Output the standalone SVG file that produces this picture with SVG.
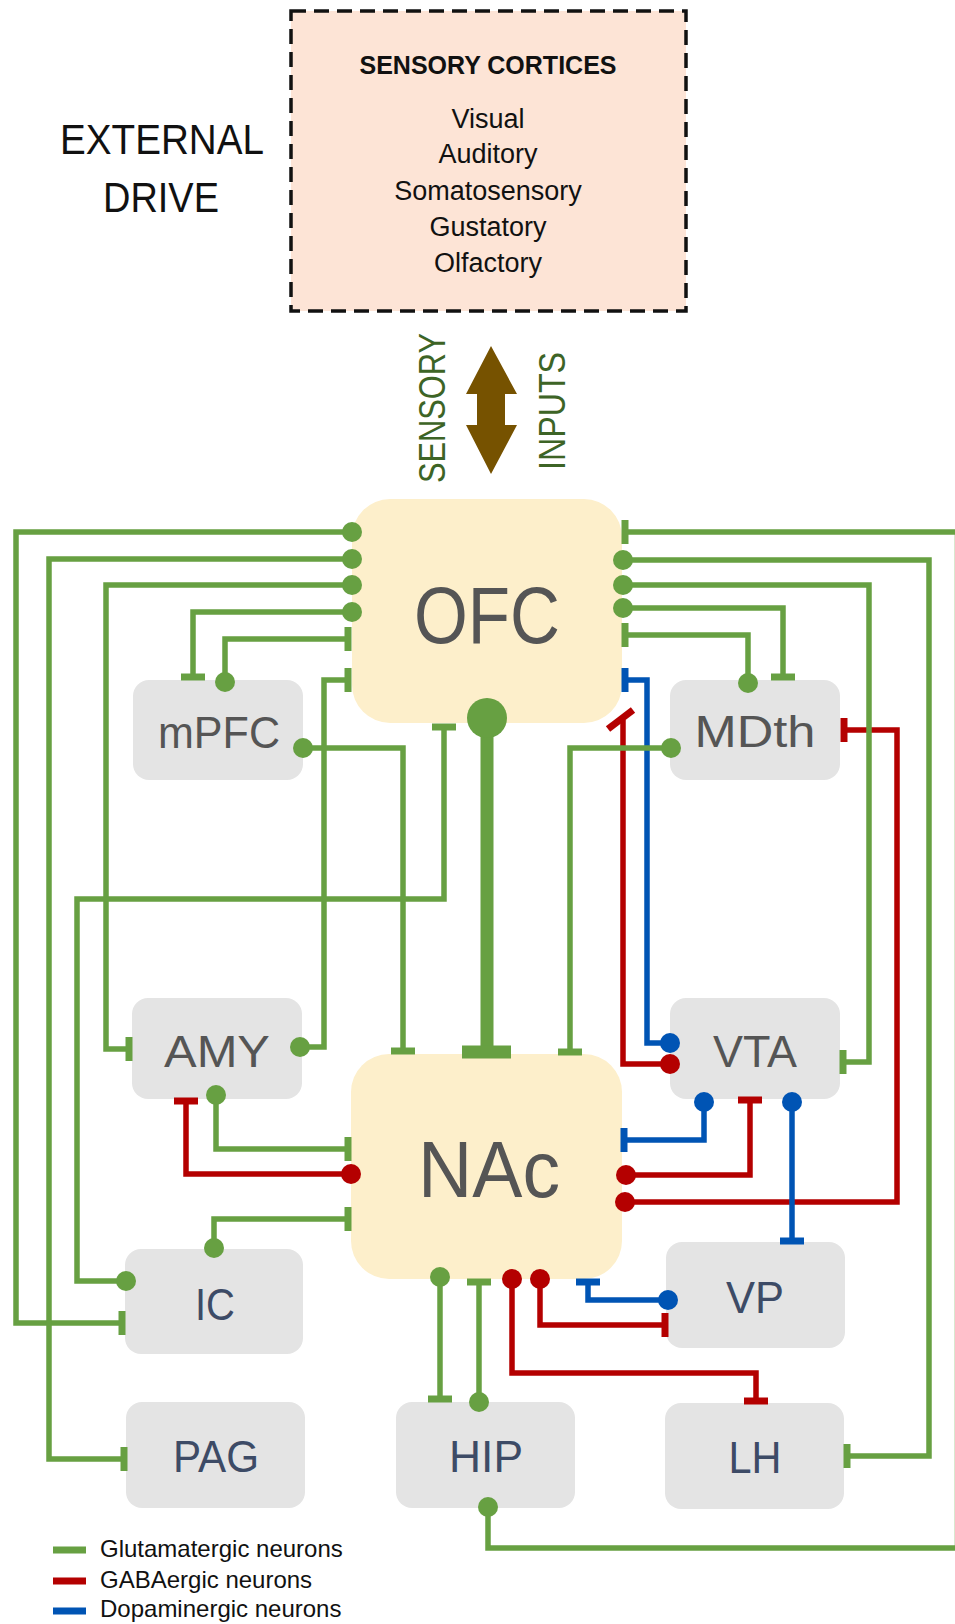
<svg xmlns="http://www.w3.org/2000/svg" width="955" height="1624" viewBox="0 0 955 1624">
<style>
  text { font-family: "Liberation Sans", Arial, sans-serif; }
  .hub { fill: #fdefcb; }
  .box { fill: #e4e4e4; }
  .lblA { font-size: 45px; fill: #555555; text-anchor: middle; }
  .lblB { font-size: 45px; fill: #3d4b66; text-anchor: middle; }
  .hubl { font-size: 80px; fill: #555555; text-anchor: middle; }
  .g { fill: none; stroke: #67a042; stroke-width: 5.5; }
  .r { fill: none; stroke: #b40000; stroke-width: 5.5; }
  .b { fill: none; stroke: #0054b4; stroke-width: 5.5; }
  .g { marker-start: url(#dotG); marker-end: url(#barG); }
  .r { marker-start: url(#dotR); marker-end: url(#barR); }
  .b { marker-start: url(#dotB); marker-end: url(#barB); }
  .list { font-size: 27px; fill: #111; text-anchor: middle; }
  .side { font-size: 36px; fill: #3d6426; text-anchor: middle; }
  .leg { font-size: 24px; fill: #111; }
</style>
<defs>
  <marker id="dotG" markerUnits="userSpaceOnUse" viewBox="-15 -15 30 30" markerWidth="30" markerHeight="30" refX="0" refY="0" orient="auto" overflow="visible"><circle r="10" fill="#67a042"/></marker>
  <marker id="dotR" markerUnits="userSpaceOnUse" viewBox="-15 -15 30 30" markerWidth="30" markerHeight="30" refX="0" refY="0" orient="auto" overflow="visible"><circle r="10" fill="#b40000"/></marker>
  <marker id="dotB" markerUnits="userSpaceOnUse" viewBox="-15 -15 30 30" markerWidth="30" markerHeight="30" refX="0" refY="0" orient="auto" overflow="visible"><circle r="10" fill="#0054b4"/></marker>
  <marker id="barG" markerUnits="userSpaceOnUse" viewBox="-15 -15 30 30" markerWidth="30" markerHeight="30" refX="0" refY="0" orient="auto" overflow="visible"><line x1="0" y1="-12" x2="0" y2="12" stroke="#67a042" stroke-width="7"/></marker>
  <marker id="barR" markerUnits="userSpaceOnUse" viewBox="-15 -15 30 30" markerWidth="30" markerHeight="30" refX="0" refY="0" orient="auto" overflow="visible"><line x1="0" y1="-12" x2="0" y2="12" stroke="#b40000" stroke-width="7"/></marker>
  <marker id="barB" markerUnits="userSpaceOnUse" viewBox="-15 -15 30 30" markerWidth="30" markerHeight="30" refX="0" refY="0" orient="auto" overflow="visible"><line x1="0" y1="-12" x2="0" y2="12" stroke="#0054b4" stroke-width="7"/></marker>
</defs>
<rect width="955" height="1624" fill="#ffffff"/>

<g id="external-drive">
  <text x="162" y="154" font-size="42" fill="#111" text-anchor="middle" textLength="204" lengthAdjust="spacingAndGlyphs">EXTERNAL</text>
  <text x="161" y="212" font-size="42" fill="#111" text-anchor="middle" textLength="116" lengthAdjust="spacingAndGlyphs">DRIVE</text>
</g>

<g id="sensory-cortices">
  <rect x="291" y="11" width="395" height="300" fill="#fde4d6" stroke="#111" stroke-width="3.5" stroke-dasharray="15 8"/>
  <text x="488" y="74" font-size="25" font-weight="bold" fill="#111" text-anchor="middle">SENSORY CORTICES</text>
  <text class="list" x="488" y="128">Visual</text>
  <text class="list" x="488" y="163">Auditory</text>
  <text class="list" x="488" y="200">Somatosensory</text>
  <text class="list" x="488" y="236">Gustatory</text>
  <text class="list" x="488" y="272">Olfactory</text>
</g>

<g id="sensory-inputs">
  <polygon points="491,346 517,394 505,394 505,425 517,425 491,474 466,425 477,425 477,394 466,394" fill="#765200"/>
  <text class="side" transform="translate(445,408) rotate(-90)" textLength="150" lengthAdjust="spacingAndGlyphs">SENSORY</text>
  <text class="side" transform="translate(565,411) rotate(-90)" textLength="118" lengthAdjust="spacingAndGlyphs">INPUTS</text>
</g>

<g id="OFC">
  <rect class="hub" x="352" y="499" width="270" height="224" rx="38"/>
  <text class="hubl" x="487" y="643" textLength="146" lengthAdjust="spacingAndGlyphs">OFC</text>
</g>
<g id="NAc">
  <rect class="hub" x="351" y="1054" width="271" height="225" rx="38"/>
  <text class="hubl" x="489" y="1197" font-size="78" textLength="142" lengthAdjust="spacingAndGlyphs">NAc</text>
</g>
<g id="mPFC">
  <rect class="box" x="133" y="680" width="170" height="100" rx="16"/>
  <text class="lblA" x="219" y="748" textLength="122" lengthAdjust="spacingAndGlyphs">mPFC</text>
</g>
<g id="MDth">
  <rect class="box" x="670" y="680" width="170" height="100" rx="16"/>
  <text class="lblA" x="755" y="747" textLength="121" lengthAdjust="spacingAndGlyphs">MDth</text>
</g>
<g id="AMY">
  <rect class="box" x="132" y="998" width="170" height="101" rx="16"/>
  <text class="lblA" x="217" y="1067" textLength="106" lengthAdjust="spacingAndGlyphs">AMY</text>
</g>
<g id="VTA">
  <rect class="box" x="670" y="998" width="170" height="101" rx="16"/>
  <text class="lblA" x="755" y="1067" textLength="84" lengthAdjust="spacingAndGlyphs">VTA</text>
</g>
<g id="IC">
  <rect class="box" x="125" y="1249" width="178" height="105" rx="16"/>
  <text class="lblB" x="215" y="1320" textLength="40" lengthAdjust="spacingAndGlyphs">IC</text>
</g>
<g id="VP">
  <rect class="box" x="666" y="1242" width="179" height="106" rx="16"/>
  <text class="lblB" x="755" y="1313" textLength="58" lengthAdjust="spacingAndGlyphs">VP</text>
</g>
<g id="PAG">
  <rect class="box" x="126" y="1402" width="179" height="106" rx="16"/>
  <text class="lblB" x="216" y="1472" textLength="86" lengthAdjust="spacingAndGlyphs">PAG</text>
</g>
<g id="HIP">
  <rect class="box" x="396" y="1402" width="179" height="106" rx="16"/>
  <text class="lblB" x="486" y="1472" textLength="74" lengthAdjust="spacingAndGlyphs">HIP</text>
</g>
<g id="LH">
  <rect class="box" x="665" y="1403" width="179" height="106" rx="16"/>
  <text class="lblB" x="755" y="1473" textLength="53" lengthAdjust="spacingAndGlyphs">LH</text>
</g>

<g id="connectors">
  <!-- GABAergic -->
  <path class="r" d="M351,1174 H186 V1101"/>
  <path class="r" d="M670,1064 H623 V720" style="marker-end:none"/>
  <line x1="608" y1="729" x2="633" y2="710" stroke="#b40000" stroke-width="7"/>
  <path class="r" d="M626,1175 H750 V1100"/>
  <path class="r" d="M625,1202 H897 V730 H844"/>
  <path class="r" d="M512,1279 V1373 H756 V1401"/>
  <path class="r" d="M540,1279 V1325 H665"/>
  <!-- Dopaminergic -->
  <path class="b" d="M670,1043 H647 V680 H625"/>
  <path class="b" d="M704,1102 V1140 H624"/>
  <path class="b" d="M792,1102 V1241"/>
  <path class="b" d="M668,1300 H588 V1282"/>
  <!-- Glutamatergic -->
  <path class="g" d="M352,532 H16 V1323 H122"/>
  <path class="g" d="M352,559 H49 V1459 H124"/>
  <path class="g" d="M352,585 H106 V1049 H129"/>
  <path class="g" d="M352,612 H193 V677"/>
  <path class="g" d="M225,682 V639 H348"/>
  <path class="g" d="M300,1047 H324 V680 H348"/>
  <path class="g" d="M303,748 H403 V1051"/>
  <path class="g" d="M126,1281 H77 V899 H444 V727"/>
  <path class="g" d="M671,748 H570 V1052"/>
  <path class="g" d="M623,608 H783 V677"/>
  <path class="g" d="M748,683 V635 H625"/>
  <path class="g" d="M623,585 H869 V1062 H843"/>
  <path class="g" d="M623,560 H929 V1456 H847"/>
  <path class="g" d="M488,1507 V1548 H957.5 V532 H625"/>
  <path class="g" d="M216,1095 V1149 H348"/>
  <path class="g" d="M214,1248 V1219 H348"/>
  <path class="g" d="M440,1277 V1399"/>
  <path class="g" d="M479,1402 V1282"/>
  <!-- thick OFC -> NAc -->
  <line x1="487" y1="718" x2="487" y2="1052" stroke="#67a042" stroke-width="13"/>
  <circle cx="487" cy="718" r="20" fill="#67a042"/>
  <line x1="462" y1="1052" x2="511" y2="1052" stroke="#67a042" stroke-width="13"/>
</g>

<g id="legend">
  <line x1="53" y1="1550" x2="86" y2="1550" stroke="#67a042" stroke-width="7"/>
  <line x1="53" y1="1581" x2="86" y2="1581" stroke="#b40000" stroke-width="7"/>
  <line x1="53" y1="1611" x2="86" y2="1611" stroke="#0054b4" stroke-width="7"/>
  <text class="leg" x="100" y="1557">Glutamatergic neurons</text>
  <text class="leg" x="100" y="1588">GABAergic neurons</text>
  <text class="leg" x="100" y="1617">Dopaminergic neurons</text>
</g>
</svg>
